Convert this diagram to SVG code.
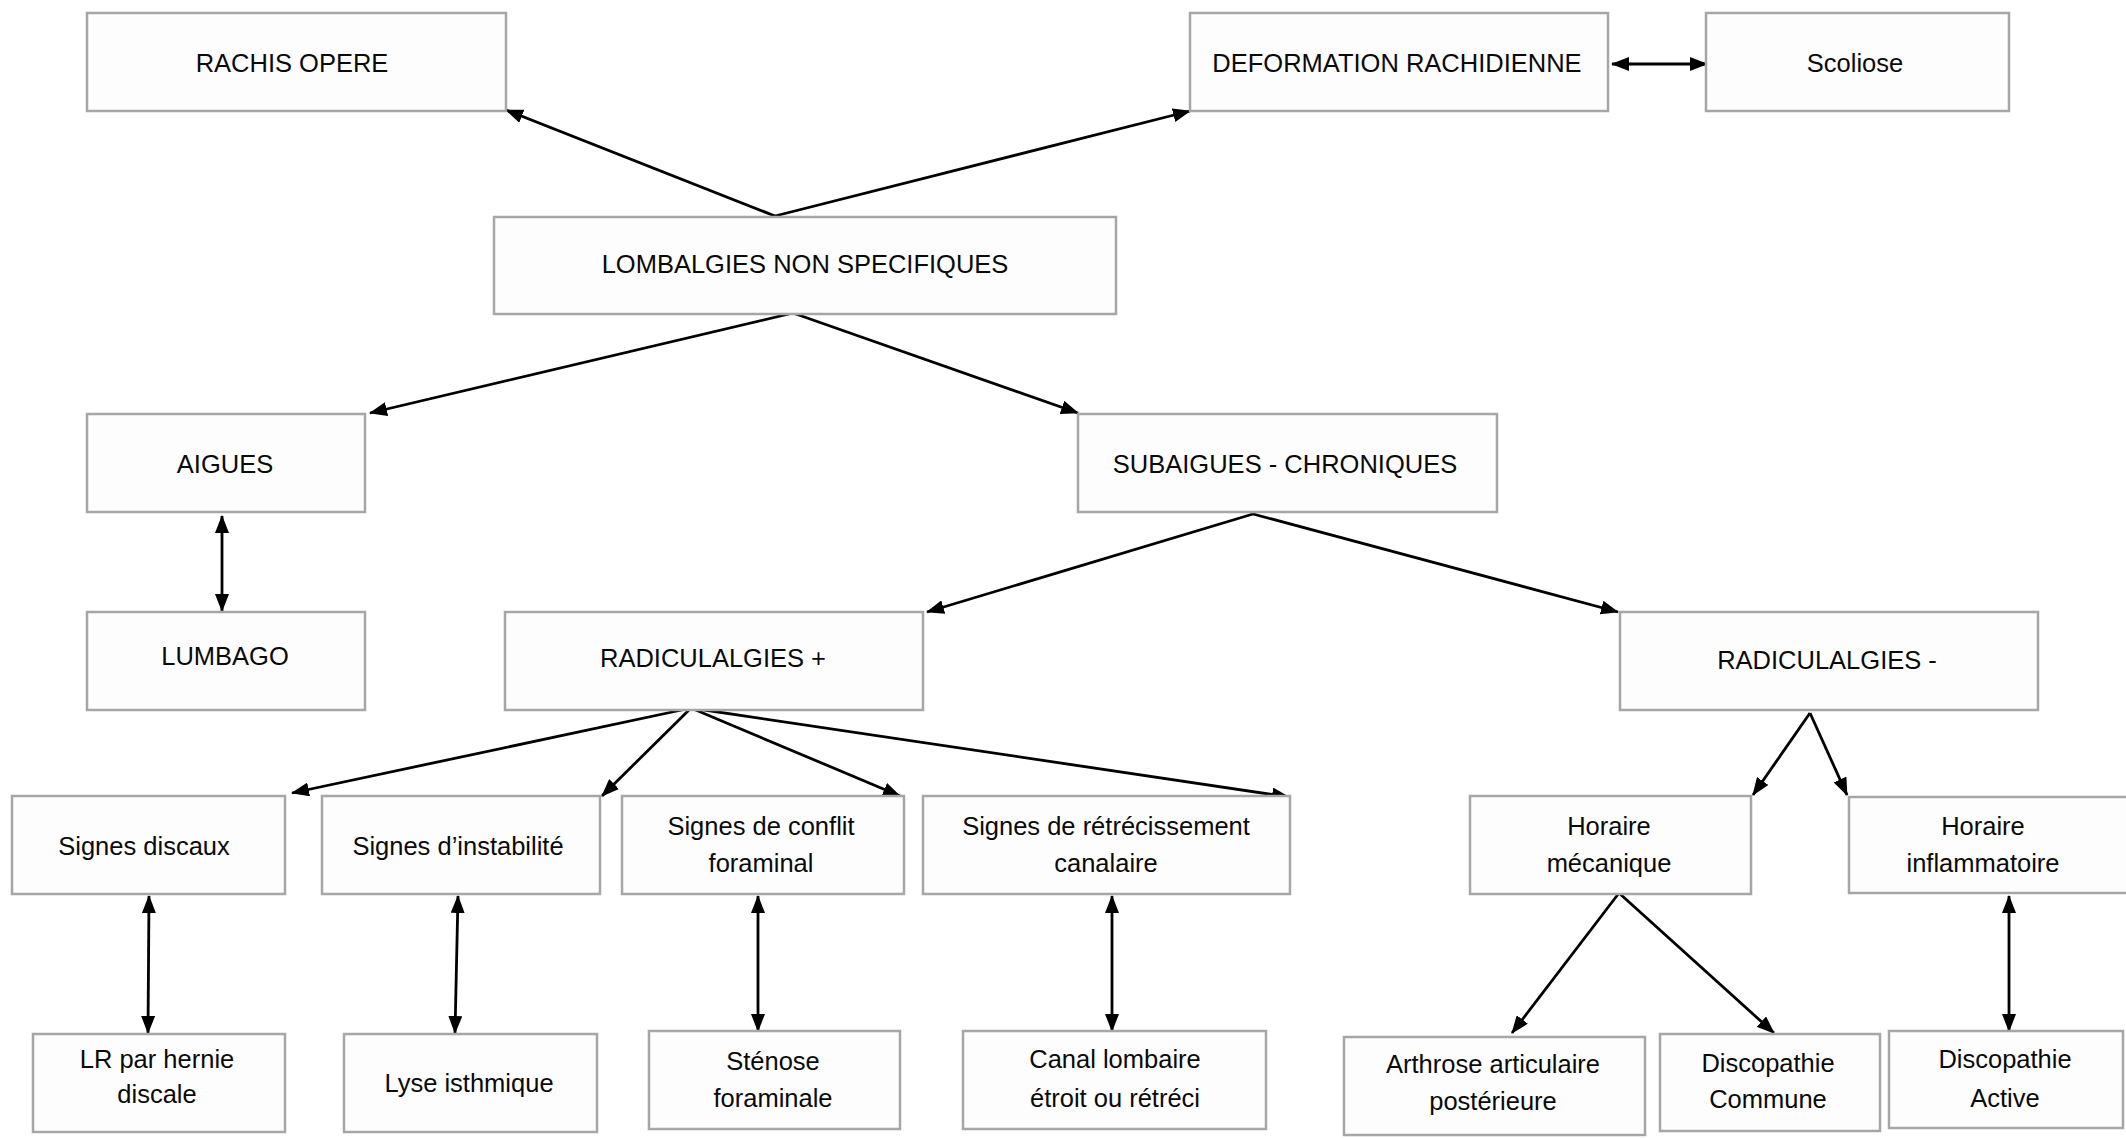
<svg xmlns="http://www.w3.org/2000/svg" width="2126" height="1138" viewBox="0 0 2126 1138">
<defs>
<marker id="ah" viewBox="0 0 18 14" refX="17" refY="7" markerWidth="18" markerHeight="14" markerUnits="userSpaceOnUse" orient="auto-start-reverse">
<path d="M0,0 L18,7 L0,14 z" fill="#000"/>
</marker>
<style>
.box{fill:#fdfdfd;stroke:#a6a6a6;stroke-width:2.5}
.t{font-family:"Liberation Sans",Arial,sans-serif;font-size:25.5px;fill:#0a0a0a;text-anchor:middle}
.c line{stroke:#000;stroke-width:2.8;fill:none}
.one{marker-end:url(#ah)}
.two{marker-start:url(#ah);marker-end:url(#ah)}
</style>
</defs>
<rect width="2126" height="1138" fill="#fff"/>
<g id="connectors" class="c">
<line class="one" x1="775" y1="216" x2="506" y2="110"/>
<line class="one" x1="775" y1="216" x2="1190" y2="111"/>
<line class="one" x1="793" y1="313" x2="370" y2="413"/>
<line class="one" x1="793" y1="313" x2="1078" y2="413"/>
<line class="two" x1="222" y1="516" x2="222" y2="611"/>
<line class="one" x1="1253" y1="514" x2="927" y2="612"/>
<line class="one" x1="1253" y1="514" x2="1618" y2="612"/>
<line class="one" x1="691" y1="708" x2="292" y2="793"/>
<line class="one" x1="691" y1="708" x2="602" y2="796"/>
<line class="one" x1="691" y1="708" x2="900" y2="796"/>
<line class="one" x1="691" y1="708" x2="1289" y2="797"/>
<line class="one" x1="1810" y1="713" x2="1753" y2="795"/>
<line class="one" x1="1810" y1="713" x2="1847" y2="795"/>
<line class="two" x1="1612" y1="64" x2="1707" y2="64"/>
<line class="two" x1="149" y1="896" x2="148" y2="1033"/>
<line class="two" x1="458" y1="896" x2="455" y2="1033"/>
<line class="two" x1="758" y1="896" x2="758" y2="1031"/>
<line class="two" x1="1112" y1="896" x2="1112" y2="1031"/>
<line class="one" x1="1619" y1="893" x2="1512" y2="1033"/>
<line class="one" x1="1619" y1="893" x2="1774" y2="1033"/>
<line class="two" x1="2009" y1="896" x2="2009" y2="1031"/>
</g>
<g id="rachis-opere"><rect class="box" x="87" y="13" width="419" height="98"/><text class="t" x="292" y="72">RACHIS OPERE</text></g>
<g id="deformation"><rect class="box" x="1190" y="13" width="418" height="98"/><text class="t" x="1397" y="72">DEFORMATION RACHIDIENNE</text></g>
<g id="scoliose"><rect class="box" x="1706" y="13" width="303" height="98"/><text class="t" x="1855" y="72">Scoliose</text></g>
<g id="lombalgies"><rect class="box" x="494" y="217" width="622" height="97"/><text class="t" x="805" y="273">LOMBALGIES NON SPECIFIQUES</text></g>
<g id="aigues"><rect class="box" x="87" y="414" width="278" height="98"/><text class="t" x="225" y="473">AIGUES</text></g>
<g id="subaigues"><rect class="box" x="1078" y="414" width="419" height="98"/><text class="t" x="1285" y="473">SUBAIGUES - CHRONIQUES</text></g>
<g id="lumbago"><rect class="box" x="87" y="612" width="278" height="98"/><text class="t" x="225" y="665">LUMBAGO</text></g>
<g id="radiculalgies-plus"><rect class="box" x="505" y="612" width="418" height="98"/><text class="t" x="713" y="667">RADICULALGIES +</text></g>
<g id="radiculalgies-moins"><rect class="box" x="1620" y="612" width="418" height="98"/><text class="t" x="1827" y="669">RADICULALGIES -</text></g>
<g id="signes-discaux"><rect class="box" x="12" y="796" width="273" height="98"/><text class="t" x="144" y="855">Signes discaux</text></g>
<g id="signes-instabilite"><rect class="box" x="322" y="796" width="278" height="98"/><text class="t" x="458" y="855">Signes d’instabilité</text></g>
<g id="signes-conflit"><rect class="box" x="622" y="796" width="282" height="98"/><text class="t" x="761" y="835">Signes de conflit</text><text class="t" x="761" y="872">foraminal</text></g>
<g id="signes-retrecissement"><rect class="box" x="923" y="796" width="367" height="98"/><text class="t" x="1106" y="835">Signes de rétrécissement</text><text class="t" x="1106" y="872">canalaire</text></g>
<g id="horaire-mecanique"><rect class="box" x="1470" y="796" width="281" height="98"/><text class="t" x="1609" y="835">Horaire</text><text class="t" x="1609" y="872">mécanique</text></g>
<g id="horaire-inflammatoire"><rect class="box" x="1849" y="797" width="290" height="96"/><text class="t" x="1983" y="835">Horaire</text><text class="t" x="1983" y="872">inflammatoire</text></g>
<g id="lr-hernie"><rect class="box" x="33" y="1034" width="252" height="98"/><text class="t" x="157" y="1068">LR par hernie</text><text class="t" x="157" y="1103">discale</text></g>
<g id="lyse"><rect class="box" x="344" y="1034" width="253" height="98"/><text class="t" x="469" y="1092">Lyse isthmique</text></g>
<g id="stenose"><rect class="box" x="649" y="1031" width="251" height="98"/><text class="t" x="773" y="1070">Sténose</text><text class="t" x="773" y="1107">foraminale</text></g>
<g id="canal"><rect class="box" x="963" y="1031" width="303" height="98"/><text class="t" x="1115" y="1068">Canal lombaire</text><text class="t" x="1115" y="1107">étroit ou rétréci</text></g>
<g id="arthrose"><rect class="box" x="1344" y="1037" width="301" height="98"/><text class="t" x="1493" y="1073">Arthrose articulaire</text><text class="t" x="1493" y="1110">postérieure</text></g>
<g id="discopathie-commune"><rect class="box" x="1660" y="1034" width="220" height="97"/><text class="t" x="1768" y="1072">Discopathie</text><text class="t" x="1768" y="1108">Commune</text></g>
<g id="discopathie-active"><rect class="box" x="1889" y="1031" width="234" height="97"/><text class="t" x="2005" y="1068">Discopathie</text><text class="t" x="2005" y="1107">Active</text></g>
</svg>
